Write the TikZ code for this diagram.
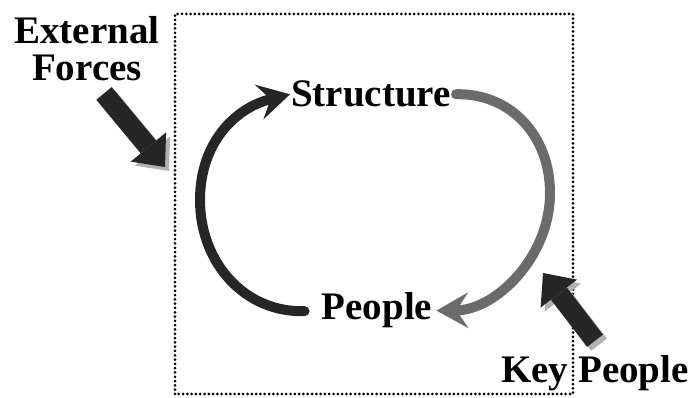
\documentclass[tikz,border=0pt]{standalone}
\usepackage{fontspec}
\setmainfont{Liberation Serif}
\usetikzlibrary{arrows.meta}

\begin{document}
\begin{tikzpicture}[x=1pt, y=1pt,
    lbl/.style = {font=\bfseries\fontsize{39}{37}\selectfont, inner sep=1pt},
    loop/.style = {line width=10pt, line cap=round, -{Stealth[length=32pt, width=36pt, inset=12pt, line width=0pt]}},
    push/.style = {line width=20pt, -{Triangle[length=26pt, width=46pt, line width=0pt]}}]
  \useasboundingbox (0,0) rectangle (696,398);
  \draw[line width=3pt, line cap=round, dash pattern=on 0pt off 4.3pt] (175,4) rectangle (573,384);

  \node[lbl, anchor=base] (struct) at (371,291) {Structure};
  \node[lbl, anchor=base] (people) at (377,78) {People};
  \node[lbl, align=center] (ext) at (87,349) {External\\Forces};
  \node[lbl, anchor=base] (key) at (595,15) {Key People};

  \coordinate (efTip) at (165,231);
  \coordinate (kpTip) at (543,125);

  % the loop
  \draw[loop, black!85, shorten <=16pt] (people.west) .. controls (245,85) and (200,135) .. (200,198)
        .. controls (200,255) and (235,290) .. (struct.west);
  \draw[loop, black!58, shorten <=4pt, shorten >=3pt] (struct.east) .. controls (510,305) and (550,263) .. (550,205)
        .. controls (550,140) and (495,88) .. (people.east);

  % outside pushes
  \draw[push, black!30, transform canvas={shift={(4pt,-4pt)}}] ([xshift=17pt, yshift=-11pt]ext.south) -- (efTip);
  \draw[push, black!85] ([xshift=17pt, yshift=-11pt]ext.south) -- (efTip);
  \draw[push, black!30, transform canvas={shift={(4pt,-4pt)}}] ([yshift=14pt]key.north) -- (kpTip);
  \draw[push, black!85] ([yshift=14pt]key.north) -- (kpTip);
\end{tikzpicture}
\end{document}
